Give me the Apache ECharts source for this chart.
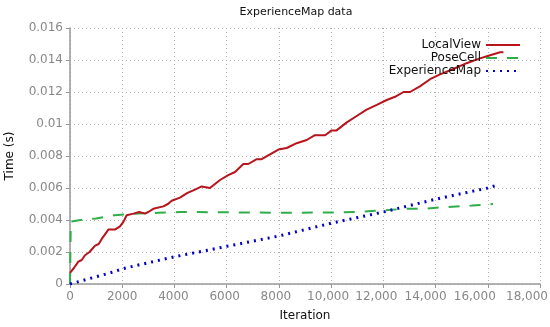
<!DOCTYPE html>
<html>
<head>
<meta charset="utf-8">
<script src="https://cdn.jsdelivr.net/npm/echarts@6/dist/echarts.min.js"></script>
<style>html,body{margin:0;padding:0;background:#fff}#c{width:550px;height:327px}</style>
</head>
<body>
<div id="c"></div>
<script>
var xTicks = [0, 2000, 4000, 6000, 8000, 10000, 12000, 14000, 16000, 18000];
var yTicks = [0, 0.002, 0.004, 0.006, 0.008, 0.01, 0.012, 0.014, 0.016];

var lvIter = [0, 150, 320, 450, 575, 750, 960, 1100, 1210, 1470, 1720, 1915, 2050, 2170, 2430, 2650, 2870, 3000, 3190, 3575, 3750, 3895, 4210, 4500, 4790, 5040, 5360, 5745, 6060, 6320, 6640, 6830, 7150, 7340, 7660, 7980, 8300, 8680, 9065, 9380, 9770, 10020, 10210, 10600, 10980, 11360, 11750, 12130, 12450, 12770, 13020, 13400, 13790, 14170, 14680, 15190, 15700, 16090, 16470, 16600];
var lvTime = [0.0007, 0.0010, 0.0014, 0.0015, 0.0018, 0.0020, 0.0024, 0.0025, 0.0028, 0.0034, 0.0034, 0.0036, 0.0039, 0.0043, 0.0044, 0.0045, 0.0044, 0.0045, 0.0047, 0.00485, 0.0050, 0.0052, 0.0054, 0.0057, 0.0059, 0.0061, 0.0060, 0.0065, 0.0068, 0.0070, 0.0075, 0.0075, 0.0078, 0.0078, 0.0081, 0.0084, 0.0085, 0.0088, 0.0090, 0.0093, 0.0093, 0.0096, 0.0096, 0.0101, 0.0105, 0.0109, 0.0112, 0.0115, 0.0117, 0.0120, 0.0120, 0.01235, 0.0128, 0.0131, 0.01344, 0.0138, 0.0141, 0.0143, 0.01448, 0.01448];

var pcIter = [0, 30, 400, 1000, 1700, 2600, 3400, 4200, 6000, 8000, 10000, 11000, 12000, 12800, 13500, 14300, 15400, 16200];
var pcTime = [0, 0.0039, 0.0040, 0.0041, 0.0043, 0.0044, 0.00445, 0.0045, 0.00448, 0.00445, 0.00447, 0.0045, 0.0046, 0.0047, 0.0047, 0.0048, 0.0049, 0.0050];

var emIter = [0, 1530, 2040, 2550, 4000, 6000, 8000, 10000, 12000, 14000, 16000, 16400];
var emTime = [0, 0.00069, 0.00096, 0.00116, 0.0017, 0.00235, 0.0030, 0.0038, 0.0045, 0.0053, 0.0060, 0.0062];

function pairs(xs, ys) { return xs.map(function (x, i) { return [x, ys[i]]; }); }

var font = 'DejaVu Sans';
var lblColor = '#888';

// label style: leftward nudge (px) of each x tick label, as in the reference
var xLabelNudge = [0, 0, 1, 2, 3, 3, 7, 10, 13, 13];
var xRich = {};
xLabelNudge.forEach(function (n, i) {
  xRich['s' + i] = { width: 1, align: 'center', padding: [0, 2 * n, 0, 0],
    fontFamily: font, fontSize: 12, color: lblColor };
});

var chart = echarts.init(document.getElementById('c'), null, { renderer: 'canvas' });
chart.setOption({
  animation: false,
  backgroundColor: '#fff',
  textStyle: { fontFamily: font },
  title: {
    text: 'ExperienceMap data',
    left: 291, top: 2, textAlign: 'center',
    textStyle: { fontFamily: font, fontSize: 11, fontWeight: 'normal', color: '#111' }
  },
  legend: {
    orient: 'vertical', right: 24, top: 34, align: 'right',
    itemWidth: 34, itemHeight: 12, itemGap: 1,
    itemStyle: { opacity: 0 },
    textStyle: { fontFamily: font, fontSize: 12, color: '#111' },
    data: ['LocalView', 'PoseCell', 'ExperienceMap']
  },
  grid: { left: 70, right: 10, top: 28, bottom: 43, containLabel: false, outerBoundsMode: 'none' },
  xAxis: {
    type: 'value', min: xTicks[0], max: xTicks[xTicks.length - 1], interval: xTicks[1] - xTicks[0],
    name: 'Iteration', nameLocation: 'middle', nameGap: 26,
    nameTextStyle: { fontFamily: font, fontSize: 12, color: '#111' },
    axisLine: { show: true, lineStyle: { color: '#999', width: 1.5 } },
    axisTick: { show: true, length: 4, lineStyle: { color: '#999' } },
    axisLabel: { margin: 7, fontFamily: font, fontSize: 12, color: lblColor,
      showMinLabel: true, showMaxLabel: true, hideOverlap: false,
      formatter: function (v) {
        var s = v >= 10000 ? v.toLocaleString('en-US') : String(v);
        var i = xTicks.indexOf(v);
        return i >= 0 ? '{s' + i + '|' + s + '}' : s;
      },
      rich: xRich },
    splitLine: { show: true, lineStyle: { color: '#b0b0b0', type: [1, 3] } }
  },
  yAxis: {
    type: 'value', min: yTicks[0], max: yTicks[yTicks.length - 1], interval: yTicks[1] - yTicks[0],
    name: 'Time (s)', nameLocation: 'middle', nameGap: 54, nameRotate: 90,
    nameTextStyle: { fontFamily: font, fontSize: 12, color: '#111' },
    axisLine: { show: true, lineStyle: { color: '#999', width: 1.5 } },
    axisTick: { show: true, length: 4, lineStyle: { color: '#999' } },
    axisLabel: { margin: 7, fontFamily: font, fontSize: 12, color: lblColor,
      showMinLabel: true, showMaxLabel: true,
      formatter: function (v) { return String(+v.toFixed(3)); } },
    splitLine: { show: true, lineStyle: { color: '#b0b0b0', type: [1, 3] } }
  },
  series: [
    { name: 'LocalView', type: 'line', showSymbol: false, symbol: 'none', z: 3,
      data: pairs(lvIter, lvTime),
      itemStyle: { color: '#b8141c' },
      lineStyle: { color: '#b8141c', width: 2 } },
    { name: 'PoseCell', type: 'line', showSymbol: false, symbol: 'none', z: 2,
      data: pairs(pcIter, pcTime),
      itemStyle: { color: '#2fae48' },
      lineStyle: { color: '#2fae48', width: 2, type: [11, 10] } },
    { name: 'ExperienceMap', type: 'line', showSymbol: false, symbol: 'none', z: 2,
      data: pairs(emIter, emTime),
      itemStyle: { color: '#0000cc' },
      lineStyle: { color: '#0000cc', width: 3, type: [2, 5] } }
  ]
});
</script>
</body>
</html>
